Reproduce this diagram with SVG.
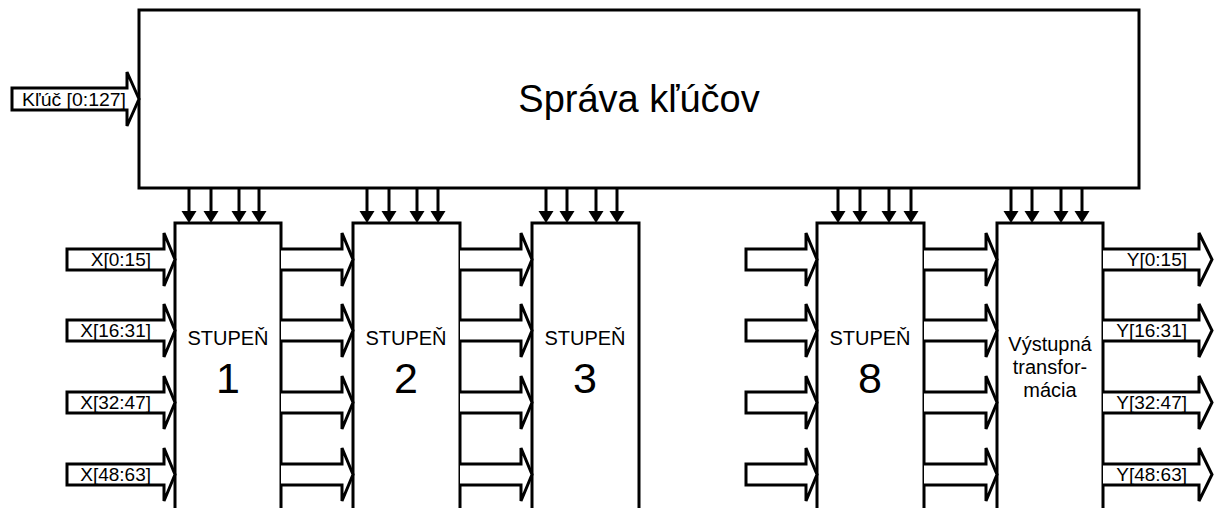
<svg xmlns="http://www.w3.org/2000/svg" width="1214" height="508" viewBox="0 0 1214 508">
<defs>
<style>
.ln{fill:none;stroke:#000;stroke-width:3;stroke-linejoin:miter}
.ba{fill:#fff;stroke:#000;stroke-width:3;stroke-linejoin:miter}
.t{font-family:"Liberation Sans",Arial,sans-serif;fill:#000}
.lab{font-size:19px;text-anchor:end}
.st{font-size:20px;text-anchor:middle}
.num{font-size:43px;text-anchor:middle}
.vt{font-size:20px;text-anchor:middle}
</style>
</defs>
<rect width="1214" height="508" fill="#fff"/>

<g id="keymgmt">
<rect class="ln" x="139" y="10" width="1000" height="178" fill="#fff"/>
<text class="t" x="639" y="112" font-size="38" text-anchor="middle">Správa kľúčov</text>
</g>

<g id="stage1">
<path class="ln" d="M175,512 V223 H281 V512"/>
<text class="t st" x="228" y="345">STUPEŇ</text>
<text class="t num" x="228" y="393">1</text>
</g>
<g id="stage2">
<path class="ln" d="M353,512 V223 H460 V512"/>
<text class="t st" x="406" y="345">STUPEŇ</text>
<text class="t num" x="406" y="393">2</text>
</g>
<g id="stage3">
<path class="ln" d="M532,512 V223 H639 V512"/>
<text class="t st" x="585" y="345">STUPEŇ</text>
<text class="t num" x="585" y="393">3</text>
</g>
<g id="stage8">
<path class="ln" d="M817,512 V223 H924 V512"/>
<text class="t st" x="870" y="345">STUPEŇ</text>
<text class="t num" x="870" y="393">8</text>
</g>
<g id="output">
<path class="ln" d="M997,512 V223 H1103 V512"/>
<text class="t vt" x="1050" y="351">Výstupná</text>
<text class="t vt" x="1050" y="374">transfor-</text>
<text class="t vt" x="1050" y="397">mácia</text>
</g>

<g id="connectors">
<g class="ln">
<path d="M189,188 V212"/><path d="M211,188 V212"/><path d="M239,188 V212"/><path d="M259,188 V212"/>
<path d="M367,188 V212"/><path d="M389,188 V212"/><path d="M417,188 V212"/><path d="M438,188 V212"/>
<path d="M546,188 V212"/><path d="M567,188 V212"/><path d="M596,188 V212"/><path d="M617,188 V212"/>
<path d="M838,188 V212"/><path d="M860,188 V212"/><path d="M889,188 V212"/><path d="M911,188 V212"/>
<path d="M1011,188 V212"/><path d="M1032,188 V212"/><path d="M1061,188 V212"/><path d="M1082,188 V212"/>
</g>
<g fill="#000">
<path d="M181.5,211 h15 l-7.5,12 z"/><path d="M203.5,211 h15 l-7.5,12 z"/><path d="M231.5,211 h15 l-7.5,12 z"/><path d="M251.5,211 h15 l-7.5,12 z"/>
<path d="M359.5,211 h15 l-7.5,12 z"/><path d="M381.5,211 h15 l-7.5,12 z"/><path d="M409.5,211 h15 l-7.5,12 z"/><path d="M430.5,211 h15 l-7.5,12 z"/>
<path d="M538.5,211 h15 l-7.5,12 z"/><path d="M559.5,211 h15 l-7.5,12 z"/><path d="M588.5,211 h15 l-7.5,12 z"/><path d="M609.5,211 h15 l-7.5,12 z"/>
<path d="M830.5,211 h15 l-7.5,12 z"/><path d="M852.5,211 h15 l-7.5,12 z"/><path d="M881.5,211 h15 l-7.5,12 z"/><path d="M903.5,211 h15 l-7.5,12 z"/>
<path d="M1003.5,211 h15 l-7.5,12 z"/><path d="M1024.5,211 h15 l-7.5,12 z"/><path d="M1053.5,211 h15 l-7.5,12 z"/><path d="M1074.5,211 h15 l-7.5,12 z"/>
</g>

<path class="ba" d="M12,88 H127 V72 L139,99 L127,126 V110 H12 Z"/>
<text class="t" x="22" y="106" font-size="18" textLength="104" lengthAdjust="spacingAndGlyphs">Kľúč [0:127]</text>

<path class="ba" d="M67,249 H164 V233 L175,259.5 L164,286 V270 H67 Z"/>
<path class="ba" d="M67,320 H164 V304 L175,330.5 L164,357 V341 H67 Z"/>
<path class="ba" d="M67,392 H164 V376 L175,402.5 L164,429 V413 H67 Z"/>
<path class="ba" d="M67,464 H164 V448 L175,474.5 L164,501 V485 H67 Z"/>
<text class="t lab" x="151" y="266">X[0:15]</text>
<text class="t lab" x="151" y="337">X[16:31]</text>
<text class="t lab" x="151" y="409">X[32:47]</text>
<text class="t lab" x="151" y="481">X[48:63]</text>

<path class="ba" d="M281,249 H342 V233 L353,259.5 L342,286 V270 H281"/>
<path class="ba" d="M281,320 H342 V304 L353,330.5 L342,357 V341 H281"/>
<path class="ba" d="M281,392 H342 V376 L353,402.5 L342,429 V413 H281"/>
<path class="ba" d="M281,464 H342 V448 L353,474.5 L342,501 V485 H281"/>

<path class="ba" d="M460,249 H521 V233 L532,259.5 L521,286 V270 H460"/>
<path class="ba" d="M460,320 H521 V304 L532,330.5 L521,357 V341 H460"/>
<path class="ba" d="M460,392 H521 V376 L532,402.5 L521,429 V413 H460"/>
<path class="ba" d="M460,464 H521 V448 L532,474.5 L521,501 V485 H460"/>

<path class="ba" d="M746,249 H806 V233 L817,259.5 L806,286 V270 H746 Z"/>
<path class="ba" d="M746,320 H806 V304 L817,330.5 L806,357 V341 H746 Z"/>
<path class="ba" d="M746,392 H806 V376 L817,402.5 L806,429 V413 H746 Z"/>
<path class="ba" d="M746,464 H806 V448 L817,474.5 L806,501 V485 H746 Z"/>

<path class="ba" d="M924,249 H986 V233 L997,259.5 L986,286 V270 H924"/>
<path class="ba" d="M924,320 H986 V304 L997,330.5 L986,357 V341 H924"/>
<path class="ba" d="M924,392 H986 V376 L997,402.5 L986,429 V413 H924"/>
<path class="ba" d="M924,464 H986 V448 L997,474.5 L986,501 V485 H924"/>

<path class="ba" d="M1103,249 H1199 V233 L1212,259.5 L1199,286 V270 H1103"/>
<path class="ba" d="M1103,320 H1199 V304 L1212,330.5 L1199,357 V341 H1103"/>
<path class="ba" d="M1103,392 H1199 V376 L1212,402.5 L1199,429 V413 H1103"/>
<path class="ba" d="M1103,464 H1199 V448 L1212,474.5 L1199,501 V485 H1103"/>
<text class="t lab" x="1187" y="266">Y[0:15]</text>
<text class="t lab" x="1187" y="337">Y[16:31]</text>
<text class="t lab" x="1187" y="409">Y[32:47]</text>
<text class="t lab" x="1187" y="481">Y[48:63]</text>
</g>
</svg>
